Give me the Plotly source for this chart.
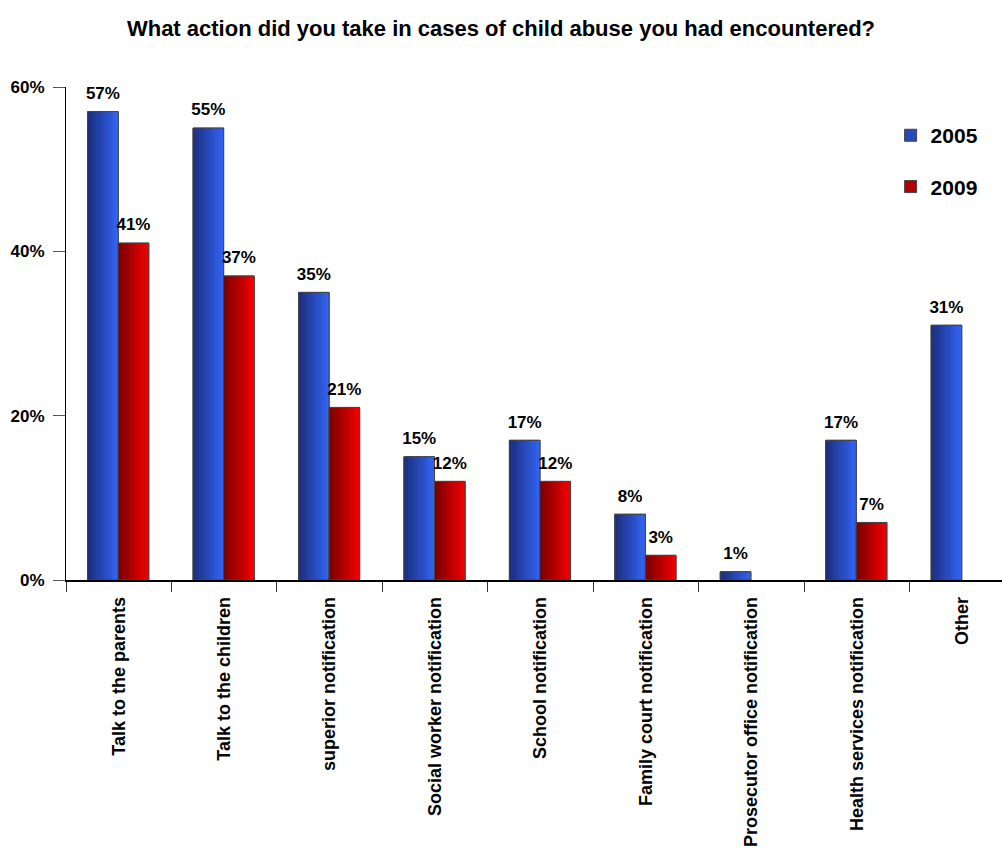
import plotly.graph_objects as go

# Survey answers: share of respondents per action
categories = [
    "Talk to the parents",
    "Talk to the children",
    "superior notification",
    "Social worker notification",
    "School notification",
    "Family court notification",
    "Prosecutor office notification",
    "Health services notification",
    "Other",
]
values_2005 = [57, 55, 35, 15, 17, 8, 1, 17, 31]
values_2009 = [41, 37, 21, 12, 12, 3, None, 7, None]
y_ticks = [0, 20, 40, 60]
y_tick_labels = ["0%", "20%", "40%", "60%"]

FONT = "Liberation Sans, Arial, sans-serif"
BAR_W = 0.29          # bar width in category units
N_SLICES = 14         # slices used to fake a horizontal colour gradient
X_RANGE = [-0.5, 8.377]


def lerp_color(c0, c1, t):
    r = round(c0[0] + (c1[0] - c0[0]) * t)
    g = round(c0[1] + (c1[1] - c0[1]) * t)
    b = round(c0[2] + (c1[2] - c0[2]) * t)
    return f"rgb({r},{g},{b})"


series = [
    ("2005", values_2005, -BAR_W - 0.005, (28, 46, 125), (50, 100, 245)),
    ("2009", values_2009, -0.005, (120, 0, 0), (245, 0, 0)),
]

fig = go.Figure()

for name, vals, off, c_dark, c_light in series:
    # full-width base bar (also provides the legend swatch)
    fig.add_trace(go.Bar(
        x=categories, y=vals, name=name,
        offset=off, width=BAR_W,
        marker=dict(color=lerp_color(c_dark, c_light, 0.5),
                    line=dict(color="#444444", width=1)),
        legendgroup=name, showlegend=True, hoverinfo="skip",
    ))
    # gradient slices, dark on the left to bright on the right
    sw = BAR_W / N_SLICES
    for k in range(N_SLICES):
        fig.add_trace(go.Bar(
            x=categories, y=vals,
            offset=off + k * sw, width=sw * 1.05,
            marker=dict(color=lerp_color(c_dark, c_light, k / (N_SLICES - 1)),
                        line=dict(width=0)),
            legendgroup=name, showlegend=False, hoverinfo="skip",
        ))
    # outline on top
    fig.add_trace(go.Bar(
        x=categories, y=vals,
        offset=off, width=BAR_W,
        marker=dict(color="rgba(0,0,0,0)", line=dict(color="#444444", width=1)),
        legendgroup=name, showlegend=False,
        hovertemplate="%{x}<br>" + name + ": %{y}%<extra></extra>",
    ))
    # value labels above each bar (on a hidden linear x axis aligned with the categories)
    xs, ys, txt = [], [], []
    for i, v in enumerate(vals):
        if v is None:
            continue
        xs.append(i + off + BAR_W / 2)
        ys.append(v)
        txt.append(f"{v}%")
    fig.add_trace(go.Scatter(
        x=xs, y=ys, text=txt, mode="markers+text", xaxis="x2",
        textposition="top center", cliponaxis=False,
        marker=dict(size=12, opacity=0),
        textfont=dict(family=FONT, size=17, color="black", weight="bold"),
        showlegend=False, hoverinfo="skip",
    ))

fig.update_layout(
    width=1002, height=858,
    barmode="overlay",
    plot_bgcolor="white", paper_bgcolor="white",
    margin=dict(l=66, r=0, t=87, b=278, autoexpand=False),
    title=dict(
        text="What action did you take in cases of child abuse you had encountered?",
        x=0.5, xref="container", xanchor="center", y=0.967, yanchor="middle",
        font=dict(family=FONT, size=22, color="black", weight="bold"),
    ),
    legend=dict(
        x=0.881, y=0.943, xanchor="left", yanchor="top",
        font=dict(family=FONT, size=21, color="black", weight="bold"),
        bgcolor="rgba(0,0,0,0)", tracegroupgap=21, traceorder="grouped",
    ),
    showlegend=True,
    xaxis=dict(
        range=X_RANGE, automargin=False,
        showline=True, linecolor="black", linewidth=1.5,
        ticks="outside", tickson="boundaries", ticklen=10, tickcolor="#333333",
        tickangle=-90, ticklabelstandoff=8,
        tickfont=dict(family=FONT, size=18, color="black", weight="bold"),
        showgrid=False, zeroline=False,
    ),
    xaxis2=dict(overlaying="x", range=X_RANGE, visible=False, fixedrange=True),
    yaxis=dict(
        range=[0, 60], tickmode="array", tickvals=y_ticks, ticktext=y_tick_labels,
        automargin=False,
        showline=True, linecolor="black", linewidth=1,
        ticks="outside", ticklen=12, tickcolor="#555555", ticklabelstandoff=5,
        tickfont=dict(family=FONT, size=17, color="black", weight="bold"),
        showgrid=False, zeroline=False,
    ),
)

fig.write_html("out.html")
